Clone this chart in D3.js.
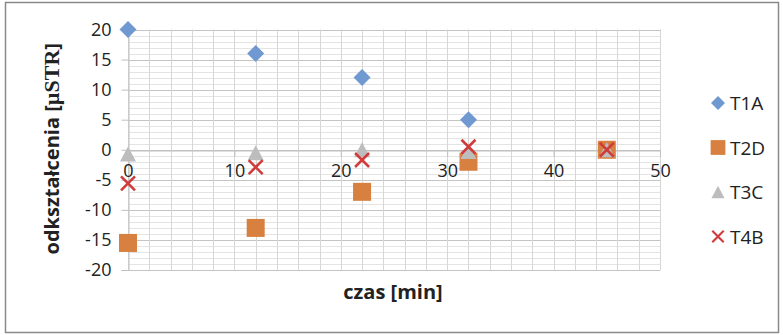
<!DOCTYPE html>
<html><head><meta charset="utf-8">
<script src="https://cdn.jsdelivr.net/npm/d3@7/dist/d3.min.js"></script>
<style>body{margin:0;background:#fff;} svg{display:block;}</style>
</head><body>
<svg id="c" width="783" height="335"></svg>
<script>
const seriesNames = ["T1A", "T2D", "T3C", "T4B"];
const times = [0, 12, 22, 32, 45];
const t1a = [20, 16, 12, 5, 0];
const t2d = [-15.5, -13, -7, -2, 0];
const t3c = [-0.7, -0.5, 0, -0.3, 0];
const t4b = [-5.6, -2.9, -1.7, 0.5, 0];
const xTicks = [0, 10, 20, 30, 40, 50];
const yTicks = [20, 15, 10, 5, 0, -5, -10, -15, -20];
const colors = ["#7099d1", "#d8803f", "#bdbdbd", "#d03c3c"];
const shapes = ["diamond", "square", "triangle", "cross"];
const xTitle = "czas [min]";

const svg = d3.select("#c");
const font = "'Open Sans', sans-serif";
svg.append("rect").attr("x", 5.5).attr("y", 2.5).attr("width", 773).attr("height", 330)
  .attr("fill", "#fff").attr("stroke", "#8a8a8a").attr("stroke-width", 1.5);

const x = d3.scaleLinear().domain([0, 50]).range([128, 660]);
const y = d3.scaleLinear().domain([-20, 20]).range([270, 29.5]);

const g = svg.append("g");
g.selectAll(".hmin").data(d3.range(-20, 21, 1)).join("line")
  .attr("x1", x(0)).attr("x2", x(50)).attr("y1", d => Math.round(y(d)) + 0.5).attr("y2", d => Math.round(y(d)) + 0.5)
  .attr("stroke", d => d % 5 === 0 ? "#c4c4c4" : "#e4e4e4").attr("stroke-width", 1);
g.selectAll(".vmin").data(d3.range(0, 51, 2)).join("line")
  .attr("y1", y(20)).attr("y2", y(-20)).attr("x1", d => Math.round(x(d)) + 0.5).attr("x2", d => Math.round(x(d)) + 0.5)
  .attr("stroke", "#d6d6d6").attr("stroke-width", 1);
g.append("line").attr("x1", x(50) + 0.5).attr("x2", x(50) + 0.5).attr("y1", y(20)).attr("y2", y(-20)).attr("stroke", "#d6d6d6");

const yAxis = d3.axisLeft(y).tickValues(yTicks).tickSize(7).tickPadding(10).tickFormat(d => d < 0 ? "-" + Math.abs(d) : d);
const ya = svg.append("g").attr("transform", `translate(${Math.round(x(0)) + 0.5},0)`).call(yAxis);
ya.select(".domain").attr("stroke", "#bfbfbf");
ya.selectAll(".tick line").attr("stroke", "#bfbfbf");
ya.selectAll("text").attr("font-family", font).attr("font-size", 18).attr("fill", "#222");

const xAxis = d3.axisBottom(x).tickValues(xTicks).tickSize(6).tickPadding(8);
const xa = svg.append("g").attr("transform", `translate(0,${Math.round(y(0)) + 0.5})`).call(xAxis);
xa.select(".domain").attr("stroke", "#bfbfbf");
xa.selectAll(".tick line").attr("stroke", "#bfbfbf");
xa.selectAll("text").attr("font-family", font).attr("font-size", 18).attr("fill", "#222");

const yt = svg.append("text").attr("transform", `translate(59,${(y(20) + y(-20)) / 2 - 1}) rotate(-90)`)
  .attr("text-anchor", "middle").attr("font-family", font).attr("font-weight", "bold").attr("font-size", 20).attr("fill", "#222");
yt.append("tspan").text("odkształcenia [");
yt.append("tspan").attr("font-family", "'Liberation Serif', serif").attr("font-size", 22).text("µSTR");
yt.append("tspan").text("]");
svg.append("text").attr("x", 393).attr("y", 299).attr("text-anchor", "middle")
  .attr("font-family", font).attr("font-weight", "bold").attr("font-size", 20).attr("fill", "#222").text(xTitle);

function marker(sel, shape, color) {
  if (shape === "diamond") sel.append("path").attr("d", "M0,-8.5L8.5,0L0,8.5L-8.5,0Z").attr("fill", color);
  else if (shape === "square") sel.append("rect").attr("x", -9).attr("y", -9).attr("width", 18).attr("height", 18).attr("fill", color);
  else if (shape === "triangle") sel.append("path").attr("d", "M0,-7.5L8,7.5L-8,7.5Z").attr("fill", color);
  else sel.append("path").attr("d", "M-7,-7L7,7M7,-7L-7,7").attr("stroke", color).attr("stroke-width", 2.6).attr("fill", "none");
}

const allVals = [t1a, t2d, t3c, t4b];
allVals.forEach((vals, i) => {
  const pts = svg.append("g").selectAll("g").data(times.map((t, j) => ({t, v: vals[j]}))).join("g")
    .attr("transform", d => `translate(${x(d.t)},${y(d.v)})`);
  pts.each(function() { marker(d3.select(this), shapes[i], colors[i]); });
});

const lg = svg.append("g").selectAll("g").data(seriesNames).join("g")
  .attr("transform", (d, i) => `translate(718,${103 + i * 44.5})`);
lg.each(function(d, i) {
  const s = d3.select(this);
  const m = s.append("g").attr("transform", "scale(0.82)");
  marker(m, shapes[i], colors[i]);
  s.append("text").attr("x", 12).attr("y", 7).attr("font-family", font).attr("font-size", 19).attr("fill", "#222").text(d);
});
</script>
</body></html>
